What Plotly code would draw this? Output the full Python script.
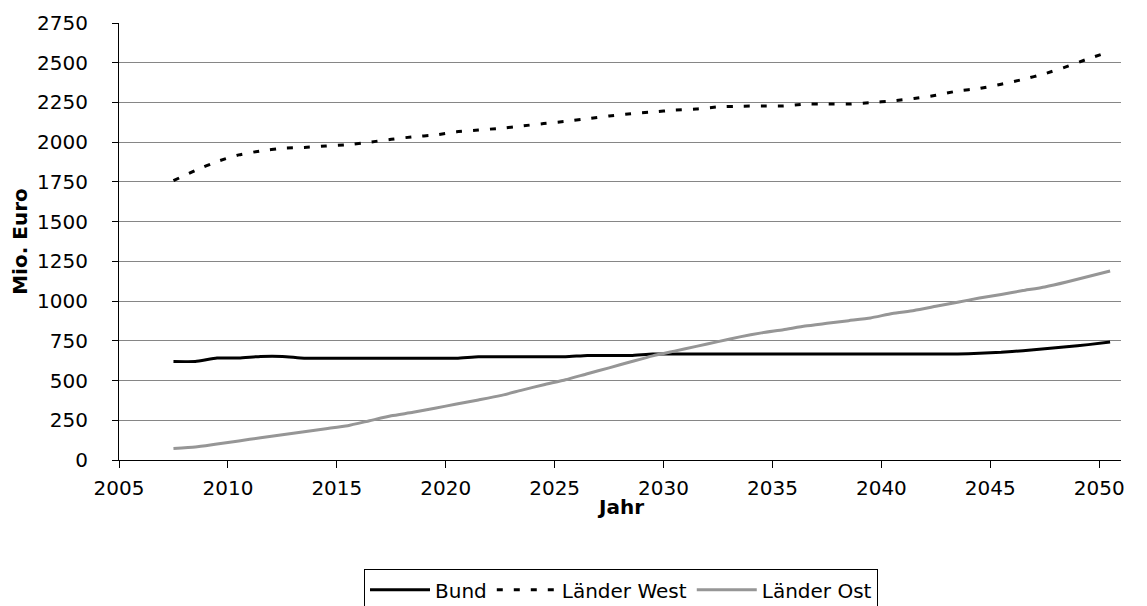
import plotly.graph_objects as go

# Annual values in million euros, 2007-2050
years = list(range(2007, 2051))

bund = [620, 620, 642, 642, 652, 652, 640, 640, 640, 640,
        640, 640, 640, 640, 650, 650, 650, 650, 650, 658,
        658, 658, 667, 667, 667, 667, 667, 667, 667, 667,
        667, 667, 667, 667, 667, 667, 667, 672, 678, 688,
        700, 713, 726, 742]

laender_west = [1758, 1822, 1878, 1920, 1945, 1962, 1967, 1976, 1984, 2000,
                2018, 2034, 2045, 2065, 2077, 2087, 2102, 2117, 2131, 2148,
                2165, 2179, 2190, 2202, 2209, 2222, 2226, 2228, 2228, 2240,
                2240, 2240, 2249, 2260, 2275, 2295, 2322, 2338, 2365, 2395,
                2431, 2475, 2525, 2570]

laender_ost = [73, 82, 101, 120, 140, 159, 178, 197, 216, 247,
               278, 300, 326, 352, 378, 405, 440, 474, 505, 543,
               580, 618, 655, 685, 715, 745, 775, 800, 820, 843,
               860, 877, 894, 922, 941, 967, 993, 1019, 1042, 1066,
               1089, 1120, 1155, 1189]

series_names = ["Bund", "Länder West", "Länder Ost"]
y_ticks = list(range(0, 2751, 250))
x_ticks = list(range(2005, 2051, 5))
x_range = [2005, 2051]

# annual figures are placed at mid-year
x_pos = [y + 0.5 for y in years]

FONT = "DejaVu Sans, Verdana, sans-serif"

fig = go.Figure()
fig.add_trace(go.Scatter(
    x=x_pos, y=bund, name=series_names[0], mode="lines",
    line=dict(color="#000000", width=3, shape="spline", smoothing=0.5),
))
fig.add_trace(go.Scatter(
    x=x_pos, y=laender_west, name=series_names[1], mode="lines",
    line=dict(color="#000000", width=3, dash="6px,11px", shape="spline", smoothing=0.5),
))
fig.add_trace(go.Scatter(
    x=x_pos, y=laender_ost, name=series_names[2], mode="lines",
    line=dict(color="#969696", width=3, shape="spline", smoothing=0.5),
))
# empty helper trace so the tick-mark axis gets drawn
fig.add_trace(go.Scatter(
    x=x_range, y=[None, None], xaxis="x2", mode="lines",
    showlegend=False, hoverinfo="skip",
))

fig.update_layout(
    width=1147, height=606,
    margin=dict(l=119, r=26, t=23, b=146, autoexpand=False),
    paper_bgcolor="white", plot_bgcolor="white",
    font=dict(family=FONT, size=20, color="#000000"),
    showlegend=True,
    legend=dict(
        orientation="h", x=0.501, xanchor="center", y=-0.25, yanchor="top",
        bordercolor="#000000", borderwidth=1, bgcolor="white",
        font=dict(size=20), itemwidth=60, tracegroupgap=0,
    ),
    # labelled year axis: transparent ticks set the gap between axis and labels
    xaxis=dict(
        range=x_range, tickvals=x_ticks, ticktext=[str(t) for t in x_ticks],
        showgrid=False, zeroline=False,
        showline=True, linecolor="#000000", linewidth=1,
        ticks="outside", ticklen=10, tickcolor="rgba(0,0,0,0)",
    ),
    # visible short tick marks on the same scale
    xaxis2=dict(
        range=x_range, tickvals=x_ticks, overlaying="x", anchor="y", side="bottom",
        showticklabels=False, showgrid=False, zeroline=False, showline=False,
        ticks="outside", ticklen=7, tickcolor="#000000", tickwidth=1,
    ),
    yaxis=dict(
        range=[0, 2750], tickvals=y_ticks,
        showgrid=True, gridcolor="#868686", gridwidth=1, zeroline=False,
        showline=True, linecolor="#000000", linewidth=1,
        ticks="outside", ticklen=6, tickcolor="#000000",
        ticklabelstandoff=20,
        title=dict(text="<b>Mio. Euro</b>", font=dict(size=20), standoff=4),
    ),
    annotations=[dict(
        text="<b>Jahr</b>", xref="paper", yref="paper", x=0.5, y=-0.108,
        xanchor="center", yanchor="middle", showarrow=False, font=dict(size=20),
    )],
)

fig.write_html("out.html")
